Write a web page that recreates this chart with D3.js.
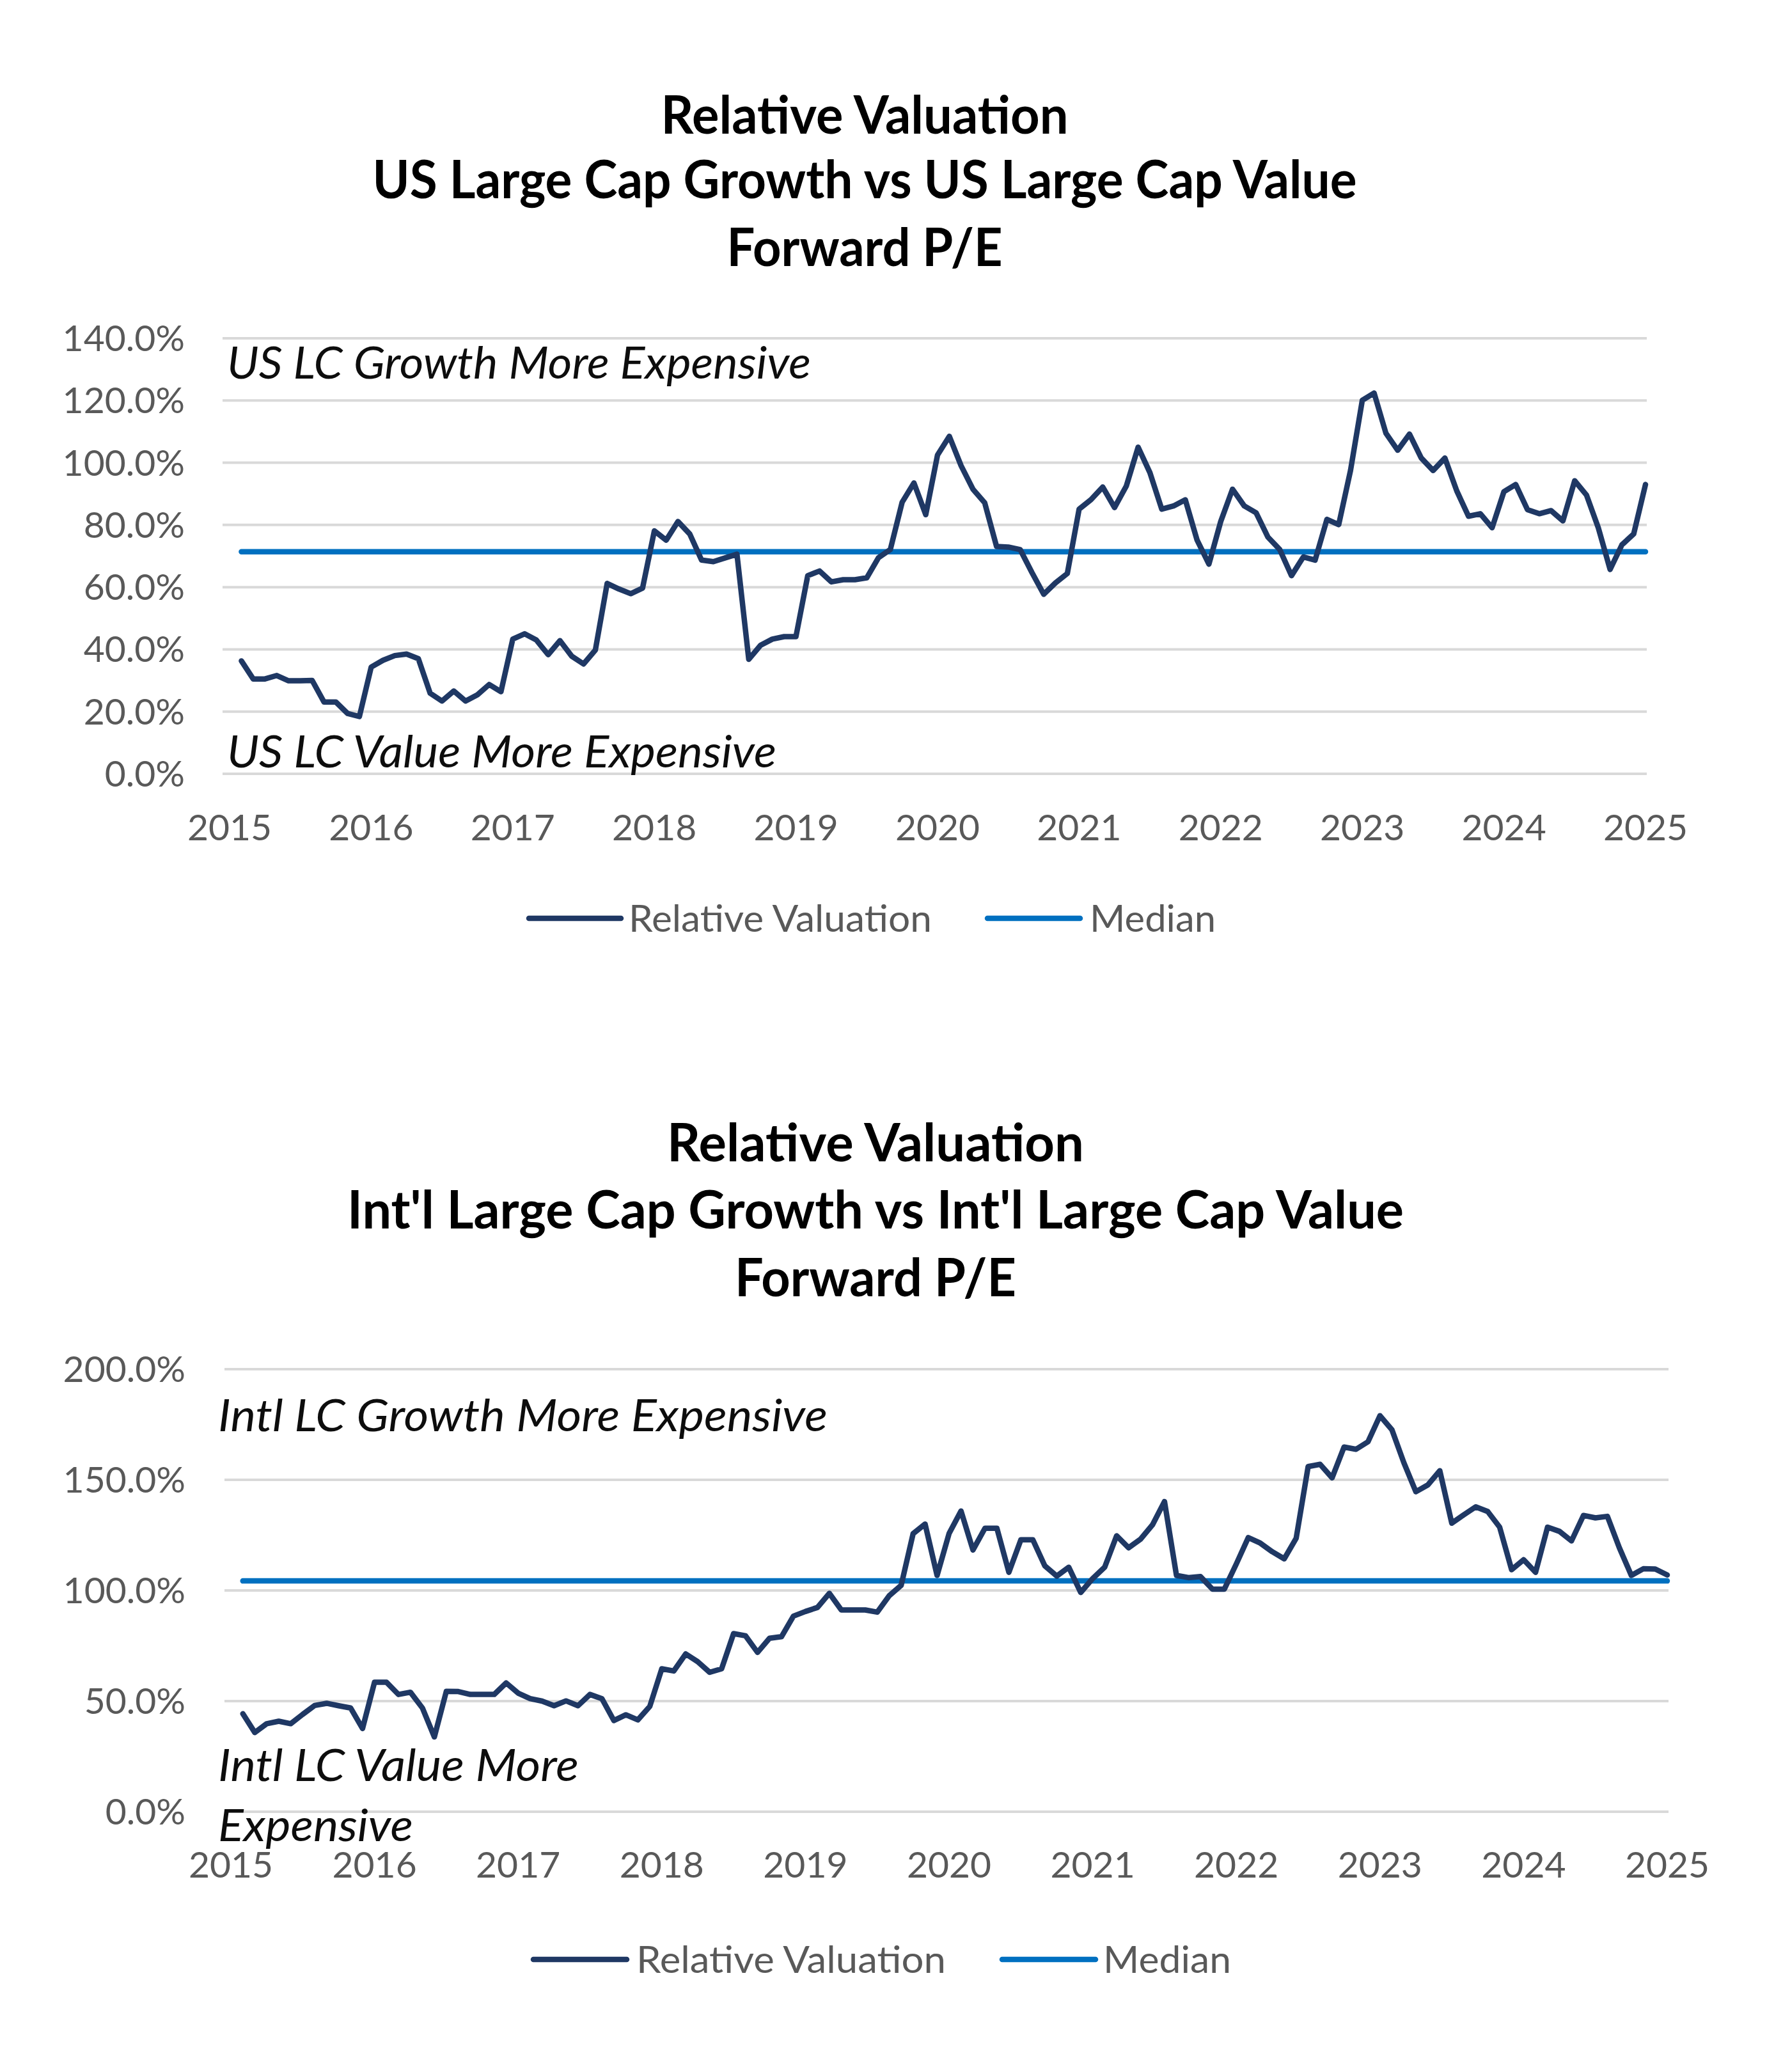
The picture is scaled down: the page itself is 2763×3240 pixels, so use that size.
<!DOCTYPE html>
<html>
<head>
<meta charset="utf-8">
<script src="https://cdn.jsdelivr.net/npm/d3@7"></script>
<style>
body { margin: 0; background: #fff; }
svg { display: block; }
text { font-family: Lato, "Noto Sans", sans-serif; }
</style>
</head>
<body>
<svg id="chart" width="2763" height="3240"></svg>
<script>
// x tick labels (one per January, 2015..2025)
var yearLabels = ["2015", "2016", "2017", "2018", "2019", "2020", "2021", "2022", "2023", "2024", "2025"];
var seriesNames = ["Relative Valuation", "Median"];

// US LC Growth vs US LC Value, monthly Feb 2015 .. Jan 2025 (%)
var usTicks = [0, 20, 40, 60, 80, 100, 120, 140];
var usRelVal = [
    36.3, 30.5, 30.5, 31.6, 29.9, 29.9, 30.0, 23.1, 23.1, 19.4, 18.4, 34.3,
    36.5, 38.0, 38.5, 37.0, 25.9, 23.4, 26.6, 23.4, 25.4, 28.7, 26.4, 43.3,
    45.0, 43.0, 38.3, 42.8, 37.8, 35.3, 39.8, 61.2, 59.4, 57.9, 59.7, 78.1,
    75.1, 81.1, 77.1, 68.7, 68.2, 69.4, 70.6, 36.8, 41.3, 43.3, 44.1, 44.1,
    63.7, 65.2, 61.7, 62.4, 62.4, 63.0, 69.5, 72.1, 87.3, 93.5, 83.3, 102.5,
    108.5, 99.0, 91.5, 87.1, 73.1, 72.9, 72.1, 64.7, 57.7, 61.4, 64.4, 85.1,
    88.1, 92.2, 85.6, 92.5, 105.0, 96.8, 85.1, 86.1, 88.1, 75.1, 67.4, 81.1,
    91.5, 86.1, 83.9, 76.1, 72.1, 63.7, 69.7, 68.7, 81.8, 80.1, 97.5, 120.1,
    122.4, 109.5, 104.0, 109.2, 101.5, 97.5, 101.5, 91.0, 82.8, 83.6, 79.1, 90.7,
    93.0, 84.9, 83.6, 84.6, 81.3, 94.2, 89.6, 79.1, 65.7, 73.6, 77.1, 93.0
];
var usMedian = 71.4;

// Int'l LC Growth vs Int'l LC Value, monthly Feb 2015 .. Jan 2025 (%)
var intlTicks = [0, 50, 100, 150, 200];
var intlRelVal = [
    44.3, 35.8, 39.8, 40.9, 39.8, 44.0, 48.0, 49.0, 47.9, 46.9, 37.6, 58.5,
    58.5, 53.0, 54.0, 46.9, 33.8, 54.4, 54.3, 53.0, 53.0, 53.0, 58.2, 53.6,
    51.1, 50.0, 47.9, 50.1, 47.9, 53.0, 51.1, 41.2, 43.8, 41.5, 47.6, 64.6,
    63.6, 71.3, 67.8, 63.0, 64.6, 80.5, 79.5, 72.0, 78.4, 79.1, 88.4, 90.5,
    92.3, 98.7, 91.2, 91.2, 91.2, 90.2, 97.6, 102.3, 125.7, 130.0, 106.8, 125.7,
    135.9, 118.3, 128.1, 128.1, 108.2, 122.9, 122.9, 111.1, 106.5, 110.5, 99.1, 105.4,
    110.5, 124.7, 119.3, 123.2, 129.7, 140.2, 106.8, 105.8, 106.3, 100.6, 100.6, 112.0,
    123.9, 121.4, 117.5, 114.3, 123.6, 156.0, 157.0, 150.9, 164.8, 163.8, 167.2, 179.0,
    172.6, 157.7, 144.6, 147.7, 154.1, 130.4, 134.2, 137.8, 135.7, 128.6, 109.4, 113.9,
    108.2, 128.6, 126.7, 122.4, 133.9, 132.8, 133.5, 119.3, 106.8, 109.8, 109.7, 107.0
];
var intlMedian = 104.3;

var usTitle = ["Relative Valuation", "US Large Cap Growth vs US Large Cap Value", "Forward P/E"];
var intlTitle = ["Relative Valuation", "Int'l Large Cap Growth vs Int'l Large Cap Value", "Forward P/E"];
var usNotes = ["US LC Growth More Expensive", "US LC Value More Expensive"];
var intlNotes = ["Intl LC Growth More Expensive", "Intl LC Value More", "Expensive"];

var lineColor = "#1F3864";
var medianColor = "#0070C0";
var gridColor = "#D9D9D9";
var labelColor = "#595959";

var svg = d3.select("#chart");

// stretch / squeeze a text to the width seen in the picture
function fit(t, w) {
    t.attr("textLength", w).attr("lengthAdjust", "spacingAndGlyphs");
}

function drawPanel(p) {
    var g = svg.append("g");
    var x = d3.scaleLinear().domain([0, 120]).range(p.xRange);   // months since Jan 2015
    var y = d3.scaleLinear().domain([0, p.yMax]).range(p.yRange);

    // title
    p.title.forEach(function (s, i) {
        var t = g.append("text").text(s)
            .attr("x", p.titleX).attr("y", p.titleY[i])
            .attr("text-anchor", "middle")
            .style("font-size", "83px").style("font-weight", 700).style("fill", "#000");
        fit(t, p.titleW[i]);
    });

    // gridlines
    g.selectAll(".grid").data(p.ticks).enter().append("line")
        .attr("x1", p.gridX[0]).attr("x2", p.gridX[1])
        .attr("y1", function (d) { return y(d); }).attr("y2", function (d) { return y(d); })
        .style("stroke", gridColor).style("stroke-width", 4);

    // y labels
    g.selectAll(".ylab").data(p.ticks).enter().append("text")
        .attr("x", p.yLabelX).attr("y", function (d) { return y(d) + 20; })
        .attr("text-anchor", "end")
        .style("font-size", "57px").style("fill", labelColor)
        .text(function (d) { return d3.format(".1f")(d) + "%"; });

    // x labels
    g.selectAll(".xlab").data(yearLabels).enter().append("text")
        .attr("x", function (d, i) { return x(i * 12); }).attr("y", p.xLabelY)
        .attr("text-anchor", "middle")
        .style("font-size", "57px").style("fill", labelColor)
        .text(function (d) { return d; });

    // notes
    p.notes.forEach(function (s, i) {
        var t = g.append("text").text(s)
            .attr("x", p.noteX).attr("y", p.noteY[i])
            .style("font-size", "70px").style("font-style", "italic").style("fill", "#0D0D0D");
        fit(t, p.noteW[i]);
    });

    // median
    var first = 1, last = p.values.length;
    g.append("line")
        .attr("x1", x(first)).attr("x2", x(last))
        .attr("y1", y(p.median)).attr("y2", y(p.median))
        .style("stroke", medianColor).style("stroke-width", 8.5).style("stroke-linecap", "round");

    // relative valuation
    var line = d3.line()
        .x(function (d, i) { return x(i + 1); })
        .y(function (d) { return y(d); });
    g.append("path").datum(p.values)
        .attr("d", line)
        .style("fill", "none").style("stroke", lineColor).style("stroke-width", 8.5)
        .style("stroke-linejoin", "round").style("stroke-linecap", "round");

    // legend
    var colors = [lineColor, medianColor];
    seriesNames.forEach(function (s, i) {
        var L = p.legend[i];
        g.append("line")
            .attr("x1", L[0]).attr("x2", L[1]).attr("y1", p.legendY).attr("y2", p.legendY)
            .style("stroke", colors[i]).style("stroke-width", 8.5).style("stroke-linecap", "round");
        var t = g.append("text").text(s)
            .attr("x", L[2]).attr("y", p.legendY + 21)
            .style("font-size", "58px").style("fill", labelColor);
        fit(t, L[3]);
    });
}

drawPanel({
    title: usTitle, titleX: 1352, titleY: [209, 310, 416], titleW: [637, 1539, 431],
    values: usRelVal, median: usMedian, ticks: usTicks, yMax: 140,
    xRange: [359, 2573], yRange: [1210, 529], gridX: [348, 2575],
    yLabelX: 289, xLabelY: 1314,
    notes: usNotes, noteX: 355, noteY: [592, 1200], noteW: [913, 859],
    legendY: 1436, legend: [[827, 971, 983, 474], [1544, 1689, 1704, 197]]
});

drawPanel({
    title: intlTitle, titleX: 1369, titleY: [1816, 1921, 2027], titleW: [652, 1652, 440],
    values: intlRelVal, median: intlMedian, ticks: intlTicks, yMax: 200,
    xRange: [361, 2607], yRange: [2833, 2141], gridX: [351, 2609],
    yLabelX: 290, xLabelY: 2936,
    notes: intlNotes, noteX: 341, noteY: [2238, 2785, 2879], noteW: [953, 564, 305],
    legendY: 3064, legend: [[834, 980, 995, 484], [1567, 1713, 1725, 200]]
});
</script>
</body>
</html>
